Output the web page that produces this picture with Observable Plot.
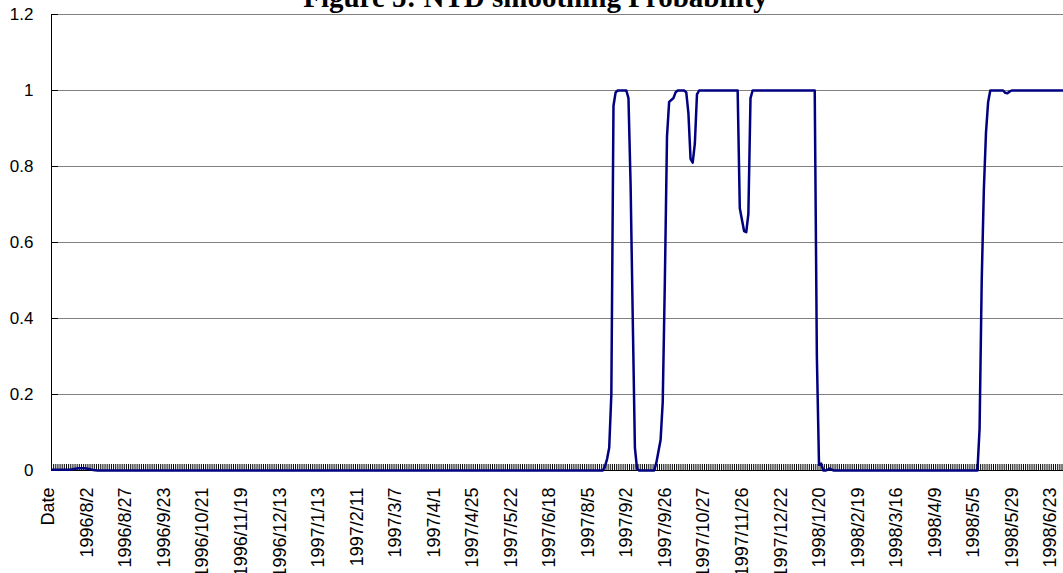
<!DOCTYPE html>
<html><head><meta charset="utf-8">
<script src="https://cdn.jsdelivr.net/npm/d3@7"></script>
<script src="https://cdn.jsdelivr.net/npm/@observablehq/plot@0.6"></script>
<style>html,body{margin:0;padding:0;background:#fff;overflow:hidden}</style>
</head><body><div id="chart"></div>
<script>
const title = "Figure 5: NTD smoothing Probability";
const categoryLabels = ["Date","1996/8/2","1996/8/27","1996/9/23","1996/10/21","1996/11/19","1996/12/13",
  "1997/1/13","1997/2/11","1997/3/7","1997/4/1","1997/4/25","1997/5/22","1997/6/18","1997/8/5",
  "1997/9/2","1997/9/26","1997/10/27","1997/11/26","1997/12/22","1998/1/20","1998/2/19","1998/3/16",
  "1998/4/9","1998/5/5","1998/5/29","1998/6/23"];
const labelStep = 18;            // one label every 18 trading days
const visibleCategories = 472.7; // categories visible in the cropped chart
const yTicks = [0, 0.2, 0.4, 0.6, 0.8, 1, 1.2];

// smoothing probability: category index of each turning point and its value
const pointIndex = [0, 8, 10, 12, 15, 17, 19, 21,
  257, 258, 259, 260, 261, 262, 263, 264, 268, 269, 270, 271, 272, 273, 274,
  281, 282, 283, 284, 285, 286, 287, 288, 289, 290, 291, 292, 295, 296, 297, 298, 299, 300, 301, 302,
  320, 321, 322, 323, 324, 325, 326, 327,
  356, 357, 358, 359, 360, 361, 362, 363, 364, 365,
  432, 433, 434, 435, 436, 437, 438, 444, 445, 446, 447, 448, 473];
const probability = [0.002, 0.002, 0.004, 0.006, 0.006, 0.004, 0.001, 0,
  0, 0.01, 0.03, 0.06, 0.2, 0.96, 0.995, 1, 1, 0.98, 0.75, 0.4, 0.06, 0.005, 0,
  0, 0.02, 0.05, 0.08, 0.18, 0.5, 0.88, 0.97, 0.975, 0.98, 0.995, 1, 1, 0.995, 0.94, 0.82, 0.81, 0.86, 0.99, 1,
  1, 0.69, 0.66, 0.63, 0.627, 0.675, 0.98, 1,
  1, 0.3, 0.015, 0.018, 0, 0, 0.002, 0.005, 0.002, 0,
  0, 0.11, 0.5, 0.74, 0.89, 0.97, 1, 1, 0.994, 0.993, 0.997, 1, 1];

const series = pointIndex.map((i, k) => ({i: i + 0.5, p: probability[k]}));
const labelTicks = categoryLabels.map((_, k) => k * labelStep + 0.5);
const labelOf = new Map(labelTicks.map((t, k) => [t, categoryLabels[k]]));
const boundaries = d3.range(0, Math.floor(visibleCategories) + 1);

const W = 1063, H = 573, mL = 51, mR = 0, mT = 14, mB = 103;
const plotH = H - mT - mB, plotW = W - mL - mR;

const chart = Plot.plot({
  width: W, height: H, marginLeft: mL, marginRight: mR, marginTop: mT, marginBottom: mB,
  style: {fontFamily: "'Liberation Sans', Arial, sans-serif", fontSize: "17px", background: "#fff", color: "#000"},
  x: {type: "linear", domain: [0, visibleCategories], axis: null, label: null},
  y: {domain: [0, 1.2], axis: null, label: null},
  marks: [
    Plot.ruleY(yTicks.filter(d => d > 0), {stroke: "#808080", strokeWidth: 1}),
    Plot.ruleY(yTicks, {stroke: "#000", insetRight: plotW - 7}),
    Plot.ruleX(boundaries, {stroke: "#000", strokeWidth: 1, insetTop: plotH - 6}),
    Plot.ruleX([0], {stroke: "#000"}),
    Plot.ruleY([0], {stroke: "#000"}),
    Plot.axisY(yTicks, {tickSize: 0, tickPadding: 18, label: null, tickFormat: d => String(d), fontSize: 17}),
    Plot.axisX(labelTicks, {tickSize: 0, tickPadding: 17, tickRotate: -90, textAnchor: "end", label: null,
      lineAnchor: "middle", dx: -4, fontSize: 18, tickFormat: d => labelOf.get(d)}),
    Plot.line(series, {x: "i", y: "p", stroke: "#000080", strokeWidth: 2.5, strokeLinejoin: "round"}),
    Plot.text([title], {frameAnchor: "top", dx: -22, dy: -8, lineAnchor: "bottom",
      fontFamily: "'Liberation Serif', 'Times New Roman', serif", fontWeight: "bold", fontSize: 29, fill: "#000"})
  ]
});
document.getElementById("chart").appendChild(chart);
</script>
</body></html>
